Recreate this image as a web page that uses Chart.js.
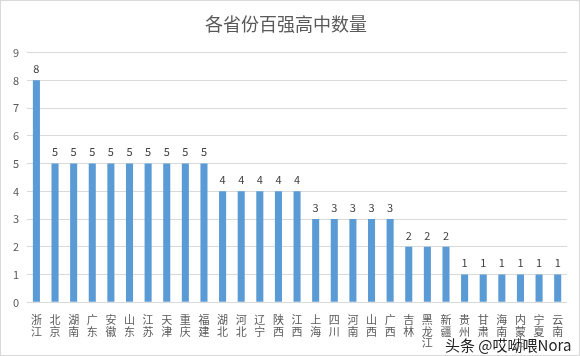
<!DOCTYPE html>
<html>
<head>
<meta charset="utf-8">
<script src="https://cdn.jsdelivr.net/npm/chart.js@4"></script>
<style>
  html, body { margin: 0; padding: 0; background: #fff; }
  #wrap { position: relative; width: 578px; height: 354px; border: 1px solid #d9d9d9; }
  #mark { position: absolute; left: 444px; top: 333px; font: 15px "Noto Sans CJK SC", sans-serif;
          color: #222; text-shadow: 0 0 2px #fff, 0 0 2px #fff; white-space: nowrap; }
</style>
</head>
<body>
<div id="wrap">
  <canvas id="c" width="578" height="354"></canvas>
  <div id="mark">头条 @哎呦喂Nora</div>
</div>
<script>
// 省份
var provinces = ['浙江', '北京', '湖南', '广东', '安徽', '山东', '江苏', '天津', '重庆', '福建',
  '湖北', '河北', '辽宁', '陕西', '江西', '上海', '四川', '河南', '山西', '广西',
  '吉林', '黑龙江', '新疆', '贵州', '甘肃', '海南', '内蒙古', '宁夏', '云南'];
// 百强高中数量
var schoolCounts = [8, 5, 5, 5, 5, 5, 5, 5, 5, 5,
  4, 4, 4, 4, 4, 3, 3, 3, 3, 3,
  2, 2, 2, 1, 1, 1, 1, 1, 1];
var yTicks = [0, 1, 2, 3, 4, 5, 6, 7, 8, 9];

var font = '"Noto Sans CJK SC", "Microsoft YaHei", sans-serif';

// 柱顶数值
var valueLabels = {
  id: 'valueLabels',
  afterDatasetsDraw: function (chart) {
    var ctx = chart.ctx;
    var meta = chart.getDatasetMeta(0);
    ctx.save();
    ctx.font = '11px ' + font;
    ctx.fillStyle = '#404040';
    ctx.textAlign = 'center';
    ctx.textBaseline = 'bottom';
    meta.data.forEach(function (bar, i) {
      ctx.fillText(schoolCounts[i], bar.x, bar.y - 6);
    });
    ctx.restore();
  }
};

new Chart(document.getElementById('c'), {
  type: 'bar',
  data: {
    labels: provinces.map(function (p) { return p.split(''); }),
    datasets: [{
      data: schoolCounts,
      backgroundColor: '#5b9bd5',
      categoryPercentage: 1,
      barPercentage: 0.38
    }]
  },
  options: {
    responsive: false,
    animation: false,
    layout: { padding: { left: 4, right: 12, top: 0, bottom: 2 } },
    plugins: {
      legend: { display: false },
      tooltip: { enabled: false },
      title: {
        display: true,
        text: '各省份百强高中数量',
        color: '#595959',
        font: { family: font, size: 18, weight: 'normal' },
        padding: { top: 12, bottom: 18 }
      }
    },
    scales: {
      x: {
        grid: { display: false },
        border: { display: false },
        ticks: {
          color: '#595959',
          font: { family: font, size: 11, lineHeight: 1.05 },
          maxRotation: 0,
          autoSkip: false,
          padding: 4
        }
      },
      y: {
        min: 0,
        max: 9,
        afterBuildTicks: function (axis) {
          axis.ticks = yTicks.map(function (v) { return { value: v }; });
        },
        grid: { color: '#d9d9d9', drawTicks: false },
        border: { display: false },
        ticks: {
          color: '#595959',
          font: { family: font, size: 11 },
          padding: 8
        }
      }
    }
  },
  plugins: [valueLabels]
});
</script>
</body>
</html>
